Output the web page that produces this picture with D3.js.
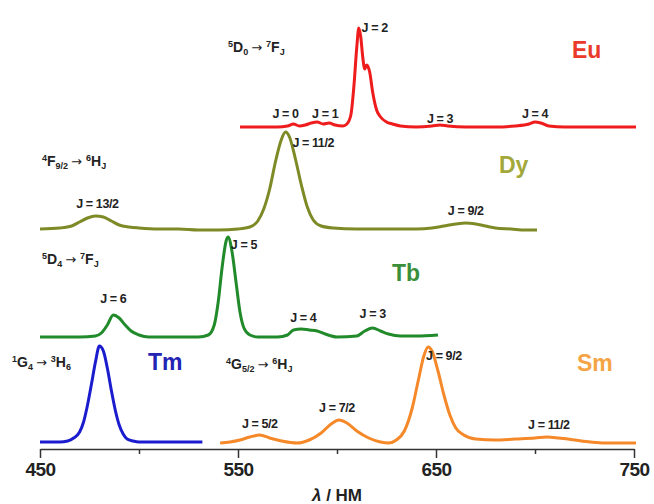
<!DOCTYPE html>
<html>
<head>
<meta charset="utf-8">
<script src="https://cdnjs.cloudflare.com/ajax/libs/d3/7.8.5/d3.min.js"></script>
<style>
  body { margin: 0; background: #fff; }
  text { font-family: "Liberation Sans", Arial, sans-serif; font-weight: bold; }
</style>
</head>
<body>
<svg id="chart"></svg>
<script>
const width = 654;
const height = 504;

// spectra: [wavelength nm, intensity above own baseline]
const tmSpectrum = [[450,0],[460,0],[464,1],[467,4],[470,10],[472,20],[474,37],[476,58],[478,80],[480,96],[482,91],[484,74],[486,52],[488,32],[490,17],[492,8],[494,3],[497,1],[500,0],[510,0],[520,0],[532,0]];
const smSpectrum = [[541,0],[546,1],[551,3],[556,6],[561,8],[566,5],[572,2],[580,0],[586,3],[592,10],[597,19],[601,23],[605,20],[610,12],[616,5],[622,1],[626,0],[630,3],[634,12],[638,35],[641,62],[644,88],[646,96],[648,92],[651,72],[654,48],[657,28],[660,15],[664,8],[670,4],[680,3],[690,4],[700,5],[706,6],[712,5],[720,3],[728,1],[735,0],[751,0]];
const tbSpectrum = [[450,0],[470,0],[478,1],[481,4],[484,12],[487,22],[490,19],[493,12],[496,6],[500,2],[505,0],[520,0],[530,0],[535,2],[538,12],[540,35],[542,70],[544,96],[545,100],[547,85],[549,55],[551,25],[553,9],[556,2],[560,0],[570,0],[575,2],[578,7],[582,8],[586,7],[590,6],[594,3],[600,0],[610,1],[614,6],[618,9],[622,6],[626,3],[632,1],[640,1],[651,2]];
const dySpectrum = [[450,0],[460,1],[466,3],[470,7],[474,11],[478,13],[482,12],[486,8],[490,4],[495,2],[500,1],[510,0],[520,0],[530,-1],[540,-1],[550,0],[556,2],[560,8],[563,20],[566,40],[569,68],[572,90],[574,97],[576,92],[579,70],[582,44],[585,22],[588,9],[592,3],[598,1],[610,0],[620,0],[630,0],[640,0],[648,1],[654,3],[660,5],[665,6],[670,5],[675,3],[680,1],[688,0],[695,-1],[701,-1]];
const euSpectrum = [[551,0],[560,0],[570,0],[575,1],[578,3],[581,1],[584,2],[587,4],[590,5],[593,3],[596,4],[599,2],[603,1],[605,3],[607,12],[608.5,40],[610,80],[611,99],[612,90],[613,70],[614,58],[615,62],[616.5,55],[618,35],[620,17],[622,10],[625,5],[628,3],[632,1],[640,0],[648,1],[652,2],[656,1],[665,0],[680,0],[690,1],[697,3],[700,5],[703,4],[707,1],[715,0],[730,0],[751,0]];

const ions = ['Tm', 'Sm', 'Tb', 'Dy', 'Eu'];
const spectra = [tmSpectrum, smSpectrum, tbSpectrum, dySpectrum, euSpectrum];
const baselines = [7, 6, 112, 220, 322];   // vertical stacking offsets
const lineColors = ['#1c1ccf', '#f5892a', '#218a2a', '#7d8a26', '#ee1c1c'];
const nameColors = ['#2323b4', '#f5a445', '#3b8f3b', '#a3a83a', '#ea3a2a'];

const majorTicks = [450, 550, 650, 750];
const minorTicks = [500, 600, 700];

// annotations
const jLabels = [
  ['Eu', 'J = 2', 619, 95], ['Eu', 'J = 0', 574, 9], ['Eu', 'J = 1', 594, 9], ['Eu', 'J = 3', 652, 4], ['Eu', 'J = 4', 700, 9],
  ['Dy', 'J = 11/2', 588, 82], ['Dy', 'J = 13/2', 479, 21], ['Dy', 'J = 9/2', 665, 14],
  ['Tb', 'J = 5', 553, 88], ['Tb', 'J = 6', 487, 34], ['Tb', 'J = 4', 583, 15], ['Tb', 'J = 3', 618, 19],
  ['Sm', 'J = 9/2', 654, 83], ['Sm', 'J = 7/2', 600, 31], ['Sm', 'J = 5/2', 561, 15], ['Sm', 'J = 11/2', 707, 14]
];
const transitions = [
  ['Tm', [['1','sup'],['G',''],['4','sub'],['\u2192','arr'],['3','sup'],['H',''],['6','sub']]],
  ['Sm', [['4','sup'],['G',''],['5/2','sub'],['\u2192','arr'],['6','sup'],['H',''],['J','sub']]],
  ['Tb', [['5','sup'],['D',''],['4','sub'],['\u2192','arr'],['7','sup'],['F',''],['J','sub']]],
  ['Dy', [['4','sup'],['F',''],['9/2','sub'],['\u2192','arr'],['6','sup'],['H',''],['J','sub']]],
  ['Eu', [['5','sup'],['D',''],['0','sub'],['\u2192','arr'],['7','sup'],['F',''],['J','sub']]]
];
const transitionPos = [[12, 367], [226, 369], [42, 264], [42, 166], [228, 52]];
const namePos = [[148, 370], [577, 371], [392, 281], [499, 173], [572, 58]];

const svg = d3.select('#chart').attr('width', width).attr('height', height);

const x = d3.scaleLinear().domain([450, 750]).range([40, 634]);
const y = d3.scaleLinear().domain([0, 430]).range([449, 19]);

const line = d3.line()
  .x(d => x(d[0]))
  .y(d => y(d[1] + d[2]))
  .curve(d3.curveMonotoneX);

spectra.forEach((s, i) => {
  svg.append('path')
    .datum(s.map(p => [p[0], p[1], baselines[i]]))
    .attr('fill', 'none')
    .attr('stroke', lineColors[i])
    .attr('stroke-width', 3)
    .attr('stroke-linejoin', 'round')
    .attr('d', line);
});

// axis
const axis = svg.append('g').attr('transform', `translate(0, ${y(0)})`)
  .call(d3.axisBottom(x).tickValues(majorTicks).tickSize(9).tickSizeOuter(0).tickPadding(5));
axis.select('.domain').attr('stroke', '#333').attr('stroke-width', 1.5);
axis.selectAll('.tick line').attr('stroke', '#333').attr('stroke-width', 1.5);
axis.selectAll('.tick text')
  .attr('fill', '#222')
  .style('font-family', '"Liberation Sans", Arial, sans-serif')
  .style('font-weight', 'bold')
  .style('font-size', '19px')
  .attr('letter-spacing', '-0.5');

const minor = svg.append('g').attr('transform', `translate(0, ${y(0)})`)
  .call(d3.axisBottom(x).tickValues(minorTicks).tickSize(5).tickSizeOuter(0).tickFormat(''));
minor.select('.domain').remove();
minor.selectAll('.tick line').attr('stroke', '#333').attr('stroke-width', 1.5);

const xLabel = svg.append('text')
  .attr('x', (x(450) + x(750)) / 2)
  .attr('y', 501)
  .attr('text-anchor', 'middle')
  .attr('font-size', 17)
  .attr('fill', '#222');
xLabel.append('tspan').attr('font-style', 'italic').text('\u03bb');
xLabel.append('tspan').text(' / НМ');

// J labels
svg.selectAll('.jlab')
  .data(jLabels)
  .enter()
  .append('text')
    .attr('class', 'jlab')
    .attr('x', d => x(d[2]))
    .attr('y', d => y(d[3] + baselines[ions.indexOf(d[0])]))
    .attr('text-anchor', 'middle')
    .attr('font-size', 12.5)
    .attr('letter-spacing', '-0.4')
    .attr('fill', '#222')
    .text(d => d[1]);

// transition labels
transitions.forEach((t, i) => {
  const txt = svg.append('text')
    .attr('x', transitionPos[i][0])
    .attr('y', transitionPos[i][1])
    .attr('font-size', 14)
    .attr('fill', '#222');
  t[1].forEach(part => {
    const sp = txt.append('tspan').text(part[0]);
    if (part[1] === 'sup') sp.attr('font-size', 9).attr('baseline-shift', 5);
    if (part[1] === 'sub') sp.attr('font-size', 9).attr('baseline-shift', -3);
    if (part[1] === 'arr') sp.attr('font-family', '"DejaVu Sans", sans-serif')
      .attr('font-weight', 'normal').attr('font-size', 13).attr('dx', 3)
      .attr('style', 'font-family:"DejaVu Sans";font-weight:normal');
    if (part[0] !== '\u2192' && t[1][t[1].indexOf(part) - 1] && t[1][t[1].indexOf(part) - 1][1] === 'arr') sp.attr('dx', 4);
  });
});

// ion names
svg.selectAll('.ion')
  .data(ions)
  .enter()
  .append('text')
    .attr('class', 'ion')
    .attr('x', (d, i) => namePos[i][0])
    .attr('y', (d, i) => namePos[i][1])
    .attr('font-size', 23)
    .attr('fill', (d, i) => nameColors[i])
    .text(d => d);
</script>
</body>
</html>
